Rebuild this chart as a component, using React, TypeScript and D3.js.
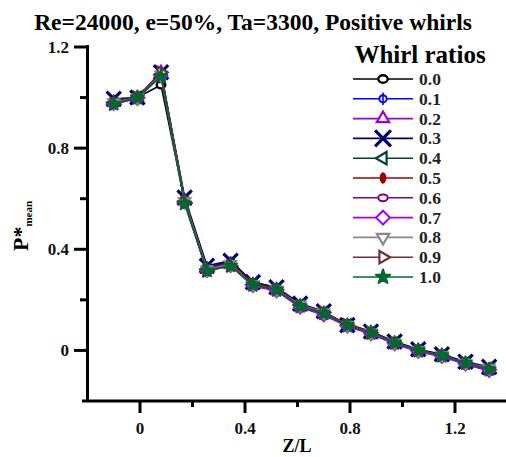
import React, { useEffect, useRef } from 'react';
import * as d3 from 'd3';

// Z/L positions of the pressure taps
const zl = [-0.1, -0.01, 0.08, 0.17, 0.255, 0.345, 0.43, 0.52, 0.61, 0.7, 0.79, 0.88, 0.97, 1.06, 1.15, 1.24, 1.33];

// P*mean for each whirl ratio
const w00 = [0.98, 1.0, 1.05, 0.59, 0.33, 0.34, 0.26, 0.245, 0.18, 0.15, 0.1, 0.07, 0.03, 0.0, -0.02, -0.05, -0.07];
const w01 = [0.99, 1.0, 1.09, 0.6, 0.33, 0.35, 0.265, 0.245, 0.18, 0.15, 0.1, 0.075, 0.03, 0.0, -0.02, -0.05, -0.07];
const w02 = [0.98, 1.0, 1.1, 0.59, 0.32, 0.34, 0.26, 0.24, 0.175, 0.145, 0.095, 0.07, 0.025, 0.0, -0.02, -0.055, -0.08];
const w03 = [0.995, 1.0, 1.1, 0.605, 0.335, 0.355, 0.27, 0.25, 0.185, 0.155, 0.1, 0.075, 0.035, 0.005, -0.015, -0.045, -0.065];
const w04 = [0.98, 1.0, 1.09, 0.59, 0.32, 0.34, 0.26, 0.24, 0.18, 0.15, 0.1, 0.07, 0.03, 0.0, -0.02, -0.05, -0.07];
const w05 = [0.985, 1.0, 1.095, 0.595, 0.325, 0.345, 0.265, 0.245, 0.18, 0.15, 0.105, 0.075, 0.03, 0.0, -0.02, -0.05, -0.07];
const w06 = [0.98, 1.0, 1.09, 0.59, 0.32, 0.34, 0.26, 0.24, 0.18, 0.15, 0.1, 0.07, 0.03, 0.0, -0.02, -0.05, -0.07];
const w07 = [0.975, 0.995, 1.085, 0.585, 0.315, 0.335, 0.255, 0.235, 0.17, 0.14, 0.095, 0.065, 0.025, -0.005, -0.025, -0.055, -0.08];
const w08 = [0.98, 1.0, 1.09, 0.59, 0.32, 0.34, 0.26, 0.24, 0.18, 0.15, 0.1, 0.07, 0.03, 0.0, -0.02, -0.05, -0.07];
const w09 = [0.975, 1.0, 1.1, 0.585, 0.315, 0.335, 0.26, 0.24, 0.175, 0.15, 0.1, 0.07, 0.03, 0.0, -0.02, -0.05, -0.075];
const w10 = [0.975, 1.0, 1.085, 0.58, 0.315, 0.335, 0.26, 0.24, 0.175, 0.145, 0.1, 0.07, 0.03, 0.0, -0.02, -0.05, -0.075];

const ratioLabels = ['0.0', '0.1', '0.2', '0.3', '0.4', '0.5', '0.6', '0.7', '0.8', '0.9', '1.0'];
const seriesValues = [w00, w01, w02, w03, w04, w05, w06, w07, w08, w09, w10];
const seriesColors = ['#000000', '#0000ff', '#a000d0', '#000070', '#004038', '#a00000', '#800080', '#a000ff', '#888888', '#703030', '#006830'];
const seriesMarkers = ['circle', 'circleV', 'triUp', 'x', 'triLeft', 'ellipse', 'circleSmall', 'diamond', 'triDown', 'triRight', 'star'];

const xTicks = [0, 0.4, 0.8, 1.2];
const xMinor = [-0.2, 0.2, 0.6, 1.0];
const yTicks = [0, 0.4, 0.8, 1.2];
const yMinor = [-0.2, 0.2, 0.6, 1.0];

const FONT = 'Liberation Serif, Times New Roman, serif';

function drawMarker(g: any, type: string, cx: number, cy: number, color: string, s: number) {
  const m = g.append('g').attr('transform', `translate(${cx},${cy})`);
  const sym = (t: any, size: number, rot = 0) =>
    m.append('path')
      .attr('d', d3.symbol().type(t).size(size)())
      .attr('transform', `rotate(${rot})`);
  if (type === 'circle') {
    m.append('ellipse').attr('rx', 4.5 * s).attr('ry', 3.6 * s)
      .attr('fill', '#fff').attr('stroke', color).attr('stroke-width', 2.4);
  } else if (type === 'circleV') {
    m.append('circle').attr('r', 3.5 * s).attr('fill', '#fff').attr('stroke', color).attr('stroke-width', 2);
    m.append('line').attr('y1', -6 * s).attr('y2', 6 * s).attr('stroke', color).attr('stroke-width', 1.6);
  } else if (type === 'circleSmall') {
    m.append('ellipse').attr('rx', 4.5 * s).attr('ry', 3.2 * s)
      .attr('fill', '#fff').attr('stroke', color).attr('stroke-width', 2);
  } else if (type === 'ellipse') {
    m.append('ellipse').attr('rx', 3.2 * s).attr('ry', 5.5 * s).attr('fill', color);
  } else if (type === 'x') {
    sym(d3.symbolTimes, 150 * s * s).attr('fill', 'none').attr('stroke', color).attr('stroke-width', 3.2);
  } else if (type === 'diamond') {
    sym(d3.symbolDiamond2, 110 * s * s).attr('fill', '#fff').attr('stroke', color).attr('stroke-width', 2);
  } else if (type === 'star') {
    sym(d3.symbolStar, 55 * s * s).attr('fill', color).attr('stroke', color).attr('stroke-width', 2.2)
      .attr('stroke-linejoin', 'round');
  } else {
    const rot = type === 'triUp' ? 0 : type === 'triDown' ? 180 : type === 'triLeft' ? -90 : 90;
    sym(d3.symbolTriangle2, 100 * s * s, rot).attr('fill', '#fff').attr('stroke', color).attr('stroke-width', 2.2);
  }
}

export default function App() {
  const svgRef = useRef<SVGSVGElement | null>(null);

  useEffect(() => {
    const svg = d3.select(svgRef.current);
    svg.selectAll('*').remove();

    const x = d3.scaleLinear().domain([-0.2, 1.4]).range([87.5, 507.5]);
    const y = d3.scaleLinear().domain([-0.2, 1.2]).range([401, 47]);

    // title
    svg.append('text').attr('x', 253).attr('y', 30).attr('text-anchor', 'middle')
      .attr('font-family', FONT).attr('font-weight', 'bold').attr('font-size', 23.5)
      .text('Re=24000, e=50%, Ta=3300, Positive whirls');

    const axisColor = '#000';
    // x axis
    svg.append('line').attr('x1', 82).attr('x2', 506).attr('y1', 401).attr('y2', 401)
      .attr('stroke', axisColor).attr('stroke-width', 3);
    xTicks.forEach((t) => {
      svg.append('line').attr('x1', x(t)).attr('x2', x(t)).attr('y1', 401).attr('y2', 413)
        .attr('stroke', axisColor).attr('stroke-width', 3);
      svg.append('text').attr('x', x(t)).attr('y', 434).attr('text-anchor', 'middle')
        .attr('font-family', FONT).attr('font-weight', 'bold').attr('font-size', 17).attr('fill', '#111')
        .text(d3.format('~g')(t));
    });
    xMinor.filter((t) => t > -0.2).forEach((t) => {
      svg.append('line').attr('x1', x(t)).attr('x2', x(t)).attr('y1', 401).attr('y2', 407)
        .attr('stroke', axisColor).attr('stroke-width', 3);
    });
    svg.append('text').attr('x', 297).attr('y', 452).attr('text-anchor', 'middle')
      .attr('font-family', FONT).attr('font-weight', 'bold').attr('font-size', 18)
      .text('Z/L');

    // y axis
    svg.append('line').attr('x1', 87.5).attr('x2', 87.5).attr('y1', 45).attr('y2', 402)
      .attr('stroke', axisColor).attr('stroke-width', 3);
    yTicks.forEach((t) => {
      svg.append('line').attr('x1', 74).attr('x2', 87).attr('y1', y(t)).attr('y2', y(t))
        .attr('stroke', axisColor).attr('stroke-width', 3);
      svg.append('text').attr('x', 69).attr('y', y(t) + 6).attr('text-anchor', 'end')
        .attr('font-family', FONT).attr('font-weight', 'bold').attr('font-size', 17).attr('fill', '#111')
        .text(d3.format('~g')(t));
    });
    yMinor.filter((t) => t > -0.2).forEach((t) => {
      svg.append('line').attr('x1', 80).attr('x2', 87).attr('y1', y(t)).attr('y2', y(t))
        .attr('stroke', axisColor).attr('stroke-width', 3);
    });

    // y label P*mean
    const yl = svg.append('text').attr('transform', 'translate(28,251) rotate(-90)')
      .attr('font-family', FONT).attr('font-weight', 'bold').attr('font-size', 22);
    yl.append('tspan').text('P*');
    yl.append('tspan').attr('font-size', 11).attr('dy', 4).text('mean');

    // series
    const line = d3.line<number>().x((_, i) => x(zl[i])).y((d) => y(d));
    const plot = svg.append('g');
    seriesValues.forEach((vals, k) => {
      plot.append('path').datum(vals).attr('d', line).attr('fill', 'none')
        .attr('stroke', seriesColors[k]).attr('stroke-width', 1.6);
      vals.forEach((v, i) => drawMarker(plot, seriesMarkers[k], x(zl[i]), y(v), seriesColors[k], 0.95));
    });

    // legend
    const leg = svg.append('g');
    leg.append('text').attr('x', 420).attr('y', 63).attr('text-anchor', 'middle')
      .attr('font-family', FONT).attr('font-weight', 'bold').attr('font-size', 25)
      .text('Whirl ratios');
    ratioLabels.forEach((lab, k) => {
      const yy = 79 + k * 19.8;
      leg.append('rect').attr('x', 350).attr('y', yy - 8).attr('width', 140).attr('height', 16).attr('fill', '#fff');
      leg.append('line').attr('x1', 353).attr('x2', 413).attr('y1', yy).attr('y2', yy)
        .attr('stroke', seriesColors[k]).attr('stroke-width', 1.6);
      drawMarker(leg, seriesMarkers[k], 383, yy, seriesColors[k], 1.05);
      leg.append('text').attr('x', 419).attr('y', yy + 6)
        .attr('font-family', FONT).attr('font-weight', 'bold').attr('font-size', 17.5).attr('fill', '#222')
        .text(lab);
    });
  }, []);

  return (
    <svg ref={svgRef} width={506} height={457}
      style={{ position: 'absolute', left: 0, top: 0, background: '#fff', display: 'block' }} />
  );
}
